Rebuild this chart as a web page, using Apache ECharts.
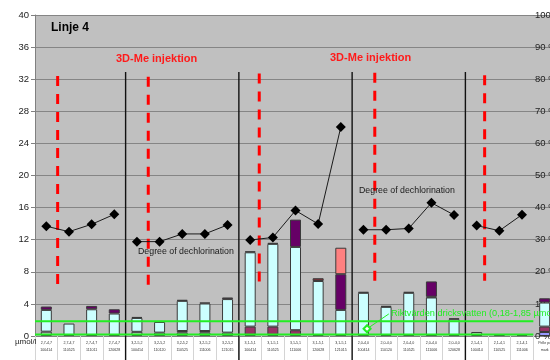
<!DOCTYPE html>
<html>
<head>
<meta charset="utf-8">
<script src="https://cdn.jsdelivr.net/npm/echarts@6/dist/echarts.min.js"></script>
<style>
  html, body { margin: 0; padding: 0; background: #ffffff; }
  #chart { width: 550px; height: 360px; }
</style>
</head>
<body>
<div id="chart"></div>
<script>
// Sampling points along Linje 4: filter depth range and sampling date
const depthRanges = [
  '2,7-4,7', '2,7-4,7', '2,7-4,7', '2,7-4,7',
  '3,2-5,2', '3,2-5,2', '3,2-5,2', '3,2-5,2', '3,2-5,2',
  '3,1-5,1', '3,1-5,1', '3,1-5,1', '3,1-5,1', '3,1-5,1',
  '2,0-4,0', '2,0-4,0', '2,0-4,0', '2,0-4,0', '2,0-4,0',
  '2,1-4,1', '2,1-4,1', '2,1-4,1',
  'Pelle på'
];
const sampleDates = [
  '100414', '110525', '111011', '120628',
  '100414', '110120', '110525', '111006', '121015',
  '100414', '110525', '111006', '120628', '121015',
  '100414', '110120', '110525', '111006', '120628',
  '100414', '110525', '111006',
  'mark'
];
// Which well each sample belongs to (the dechlorination line is drawn per well)
const wellOf = [0,0,0,0, 1,1,1,1,1, 2,2,2,2,2, 3,3,3,3,3, 4,4,4, 5];

// Stacked concentrations, µmol/l (bottom to top)
const baseLayer   = [0.12,0.12,0.12,0.12, 0.12,0.12,0.12,0.12,0.12, 0.12,0.12,0.12,0.12,0.12, 0.12,0.12,0.12,0.12,0.12, 0.12,0.12,0.12, 0];
const greyLayer   = [0.42,0,0,0, 0.40,0.30,0.30,0.30,0.30, 0,0,0,0,0, 0,0,0,0,0, 0.38,0,0, 0];
const lilacLayer  = [0,0,0,0, 0,0,0,0,0, 0,0,0,0,0, 0,0,0,0,0, 0,0,0, 0.50];
const maroonLayer = [0,0,0,0, 0,0,0,0,0, 1.05,1.05,0.60,0,0, 0,0,0,0,0, 0,0,0, 0.67];
const yellowLayer = [0,0,0,0, 0,0,0.20,0.20,0, 0,0,0,0,0, 0,0,0,0,0, 0,0,0, 0];
const cyanLayer   = [2.71,1.43,3.21,2.68, 1.73,1.33,3.76,3.43,4.18, 9.26,10.31,10.38,6.73,3.13, 5.26,3.51,5.26,4.68,1.96, 0,0,0, 3.00];
const blueLayer   = [0,0,0,0, 0.12,0,0,0,0, 0,0.12,0,0,0, 0,0,0.12,0.10,0, 0,0,0, 0];
const brownLayer  = [0,0,0,0, 0,0,0,0,0, 0,0,0,0.35,0, 0,0,0,0,0, 0,0,0, 0];
const purpleLayer = [0.42,0,0.42,0.53, 0,0,0,0,0.20, 0,0,3.40,0,4.45, 0,0,0,1.90,0, 0,0,0, 0.53];
const salmonLayer = [0,0,0,0, 0,0,0,0,0, 0,0,0,0,3.30, 0,0,0,0,0, 0,0,0, 0];
const capLayer    = [0,0,0,0, 0,0.12,0.12,0.12,0, 0.12,0,0,0,0, 0.12,0.12,0,0,0.12, 0,0,0, 0];

// Degree of dechlorination, % (right axis)
const dechlorination = [34.2,32.5,34.8,37.9, 29.4,29.4,31.8,31.8,34.6, 29.9,30.7,39.1,34.9,65.1, 33.1,33.1,33.5,41.5,37.7, 34.4,32.8,37.8, null];

// Injection markers: position along the sample axis, top and bottom (µmol/l scale)
const injectionAt     = [1, 5, 9.9, 15, 19.85];
const injectionTop    = [32.4, 32.3, 32.7, 32.8, 32.5];
const injectionBottom = [5.6, 5.6, 6.0, 6.4, 6.9];

// Well boundaries
const wellBoundaries = [4, 9, 14, 19];
const boundaryTop = 32.9;
const boundaryBottom = -3.05;

// Drinking water guideline values, µmol/l
const guidelineLow = 0.18;
const guidelineHigh = 1.85;
const guidelineEnd = 22;

const leftTicks = [0, 40, 4];
const rightTicks = [0, 100, 10];

const FONT = 'Liberation Sans, Arial, sans-serif';
const nz = arr => arr.map(v => (v ? v : '-'));

const chart = echarts.init(document.getElementById('chart'), null, { renderer: 'canvas' });

const barBorder = { borderColor: '#3a3a3a', borderWidth: 1 };
const layers = [
  ['base', baseLayer, '#222222'],
  ['grey', greyLayer, '#c6c6c6'],
  ['lilac', lilacLayer, '#9999ff'],
  ['maroon', maroonLayer, '#993366'],
  ['yellow', yellowLayer, '#ffffcc'],
  ['cyan', cyanLayer, '#ccffff'],
  ['blue', blueLayer, '#336699'],
  ['brown', brownLayer, '#7a3038'],
  ['purple', purpleLayer, '#660066'],
  ['salmon', salmonLayer, '#ff8080'],
  ['cap', capLayer, '#222222']
];

const series = [];
layers.forEach(([name, values, color]) => {
  series.push({
    name, type: 'bar', stack: 'conc', xAxisIndex: 0, yAxisIndex: 0,
    barWidth: 11, data: nz(values), z: 2,
    itemStyle: Object.assign({ color }, barBorder)
  });
});

// Dechlorination line, one segment per well
for (let w = 0; w < 5; w++) {
  series.push({
    type: 'line', xAxisIndex: 0, yAxisIndex: 1, z: 6,
    data: dechlorination.map((v, i) => (wellOf[i] === w && v != null ? v : '-')),
    symbol: 'diamond', symbolSize: 10,
    itemStyle: { color: '#000000' },
    lineStyle: { color: '#1a1a1a', width: 1 }
  });
}

// Well boundaries (black)
wellBoundaries.forEach(x => {
  series.push({
    type: 'line', xAxisIndex: 1, yAxisIndex: 0, z: 4, clip: false,
    data: [[x, boundaryTop], [x, boundaryBottom]], symbol: 'none',
    lineStyle: { color: '#111111', width: 1.4 }
  });
});

// Injection markers (red dashed)
injectionAt.forEach((x, k) => {
  series.push({
    type: 'line', xAxisIndex: 1, yAxisIndex: 0, z: 4,
    data: [[x, injectionTop[k]], [x, injectionBottom[k]]], symbol: 'none',
    lineStyle: { color: '#ff0000', width: 3, type: [10, 8] }
  });
});

// Guideline band edges (green)
[guidelineLow, guidelineHigh].forEach(y => {
  series.push({
    type: 'line', xAxisIndex: 1, yAxisIndex: 0, z: 7,
    data: [[0, y], [guidelineEnd, y]], symbol: 'none',
    lineStyle: { color: '#22ee22', width: 2 }
  });
});

// Leader from the guideline text to the band
series.push({
  type: 'line', xAxisIndex: 1, yAxisIndex: 0, z: 7,
  data: [
    { value: [14.66, 0.9], symbol: 'emptyDiamond', symbolSize: 7 },
    { value: [15.62, 2.75], symbol: 'none' }
  ],
  itemStyle: { color: '#22ee22' },
  lineStyle: { color: '#22ee22', width: 1 }
});

const option = {
  animation: false,
  backgroundColor: '#ffffff',
  grid: {
    left: 35, top: 15, width: 521, height: 321,
    outerBoundsMode: 'none', containLabel: false,
    show: true, backgroundColor: '#c0c0c0', borderWidth: 0
  },
  xAxis: [
    {
      type: 'category', data: depthRanges, boundaryGap: true,
      axisLine: { lineStyle: { color: '#808080', width: 1 } },
      axisTick: { show: true, interval: 0, length: 24, lineStyle: { color: '#d4d4d4' } },
      axisLabel: {
        interval: 0, margin: 3, fontSize: 3.6, lineHeight: 7, color: '#333333',
        fontFamily: FONT,
        formatter: (v, i) => v + '\n' + sampleDates[i]
      }
    },
    { type: 'value', min: 0, max: 23, show: false }
  ],
  yAxis: [
    {
      type: 'value', min: leftTicks[0], max: leftTicks[1], interval: leftTicks[2],
      axisLine: { show: true, lineStyle: { color: '#808080' } },
      axisTick: { show: true, length: 4, lineStyle: { color: '#808080' } },
      axisLabel: { fontSize: 9.5, color: '#222222', margin: 6, fontFamily: FONT },
      splitLine: { show: true, lineStyle: { color: '#858585', width: 1 } }
    },
    {
      type: 'value', min: rightTicks[0], max: rightTicks[1], interval: rightTicks[2],
      position: 'right', offset: -23,
      axisLine: { show: false },
      axisTick: { show: true, length: 3, inside: false, lineStyle: { color: '#808080' } },
      axisLabel: { fontSize: 9.5, color: '#222222', margin: 2, fontFamily: FONT,
        formatter: '{value} %' },
      splitLine: { show: false }
    }
  ],
  series,
  graphic: [
    { type: 'text', left: 51, top: 22, z: 10,
      style: { text: 'Linje 4', font: 'bold 12px ' + FONT, fill: '#000000' } },
    { type: 'text', left: 116, top: 53, z: 10,
      style: { text: '3D-Me injektion', font: 'bold 11px ' + FONT, fill: '#ff1a1a' } },
    { type: 'text', left: 330, top: 52, z: 10,
      style: { text: '3D-Me injektion', font: 'bold 11px ' + FONT, fill: '#ff1a1a' } },
    { type: 'text', left: 138, top: 247, z: 10,
      style: { text: 'Degree of dechlorination', font: '8.8px ' + FONT, fill: '#1a1a1a' } },
    { type: 'text', left: 359, top: 186, z: 10,
      style: { text: 'Degree of dechlorination', font: '8.8px ' + FONT, fill: '#1a1a1a' } },
    { type: 'text', left: 391, top: 309, z: 10,
      style: { text: 'Riktvärden dricksvatten (0,18-1,85 µmol/l)', font: '9.2px ' + FONT, fill: '#22ee22' } },
    { type: 'text', left: 15, top: 338, z: 10,
      style: { text: 'µmol/l', font: '8px ' + FONT, fill: '#222222' } }
  ]
};

chart.setOption(option);
</script>
</body>
</html>
